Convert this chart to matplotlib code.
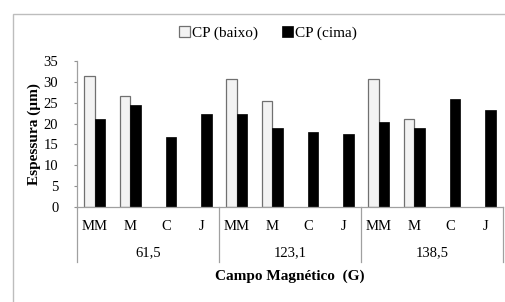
import matplotlib.pyplot as plt
import matplotlib.patches as patches
import numpy as np

plt.rcParams['font.family'] = ['Liberation Serif', 'DejaVu Serif']

# data
grupos = ['61,5', '123,1', '138,5']
categorias = ['MM', 'M', 'C', 'J']
baixo = [31.4, 26.7, 0, 0, 30.8, 25.3, 0, 0, 30.6, 21.1, 0, 0]
cima = [21.0, 24.5, 16.8, 22.3, 22.3, 19.0, 18.0, 17.4, 20.4, 19.0, 25.8, 23.2]

labels = categorias * len(grupos)
x = np.arange(len(labels))
w = 0.295

fig = plt.figure(figsize=(5.05, 3.02), dpi=100)
ax = fig.add_axes([77 / 505, 1 - 207 / 302, (503 - 77) / 505, (207 - 61) / 302])

# outer chart frame (cropped on the right / bottom like the original)
fig.patches.append(patches.Rectangle((13 / 505, -0.05), 1.2, 0.05 + 1 - 14 / 302,
                                     transform=fig.transFigure, fill=False,
                                     edgecolor='#bdbdbd', linewidth=1.0))

b_mask = np.array(baixo) > 0
ax.bar(x[b_mask] - w / 2, np.array(baixo)[b_mask], w, color='#f3f3f3',
       edgecolor='#707070', linewidth=0.9, label='CP (baixo)')
ax.bar(x + w / 2, cima, w, color='black', edgecolor='black', linewidth=0.5,
       label='CP (cima)')

ax.set_xlim(-0.5, len(labels) - 0.5)
ax.set_ylim(0, 35)
ax.set_yticks(np.arange(0, 36, 5))
ax.tick_params(axis='y', labelsize=10.5, length=2.5, color='#909090', pad=11)
ax.set_xticks(x)
ax.set_xticklabels(labels, fontsize=10.5)
ax.tick_params(axis='x', length=0, pad=9)

for s in ['top', 'right']:
    ax.spines[s].set_visible(False)
for s in ['left', 'bottom']:
    ax.spines[s].set_color('#a0a0a0')
    ax.spines[s].set_linewidth(0.9)

# group separators and group labels
trans = ax.get_xaxis_transform()
for i in range(len(grupos) + 1):
    xs = i * len(categorias) - 0.5
    ax.plot([xs, xs], [0, -55 / 146], color='#a0a0a0', linewidth=0.9,
            transform=trans, clip_on=False)
for i, g in enumerate(grupos):
    xc = i * len(categorias) + (len(categorias) - 1) / 2
    ax.text(xc, -46 / 146, g, transform=trans, ha='center', va='center',
            fontsize=10.5)

fig.text(290 / 505, 1 - 276 / 302, 'Campo Magnético  (G)', ha='center',
         va='center', fontsize=11, fontweight='bold')
ax.set_ylabel('Espessura (µm)', fontsize=11, fontweight='bold', labelpad=2)

fig.legend(loc='center', bbox_to_anchor=(268 / 505, 1 - 33 / 302), ncol=2,
           frameon=False, fontsize=11, handlelength=0.7, handleheight=0.7,
           handletextpad=0.15, columnspacing=1.6)

fig.savefig('out.png', dpi=100)
